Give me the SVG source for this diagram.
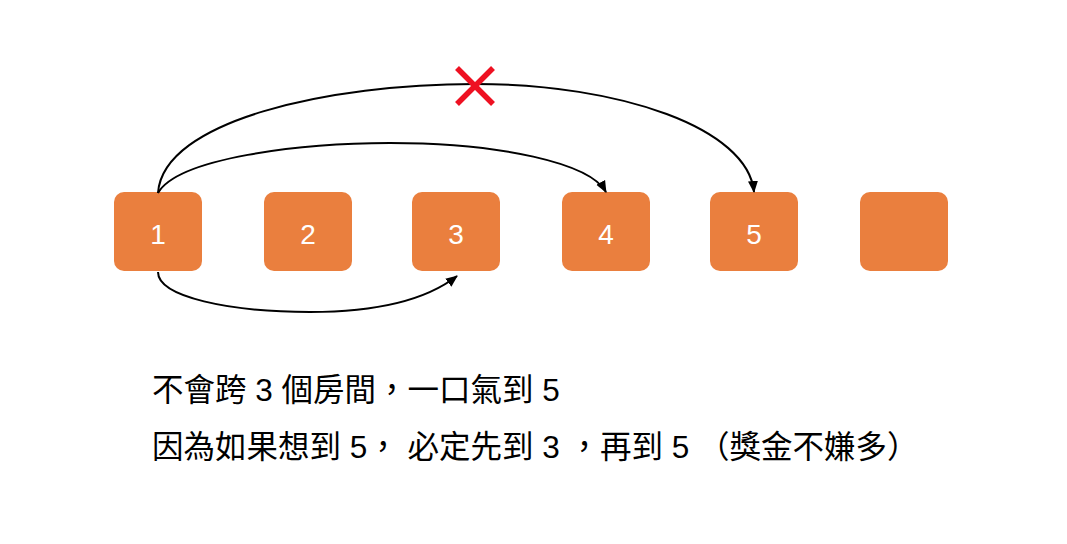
<svg xmlns="http://www.w3.org/2000/svg" width="1067" height="544" viewBox="0 0 1067 544">
  <style>
    .room { fill: #EA7F3E; }
    .num { fill: #ffffff; font-family: "Liberation Sans", Arial, sans-serif; font-size: 28px; text-anchor: middle; }
    .edge { fill: none; stroke: #000000; stroke-width: 2; }
    .note { fill: #000000; font-family: "Liberation Sans", "Noto Sans CJK TC", sans-serif; font-size: 31.5px; }
  </style>
  <defs>
    <marker id="arrow" markerUnits="userSpaceOnUse" markerWidth="12" markerHeight="12" viewBox="0 0 12 12" refX="11" refY="6" orient="auto">
      <path d="M0,1 L12,6 L0,11 Z" fill="#000000"/>
    </marker>
  </defs>
  <rect width="1067" height="544" fill="#ffffff"/>

  <g id="room-1"><rect class="room" x="114" y="192" width="88" height="79" rx="10"/><text class="num" x="158" y="244">1</text></g>
  <g id="room-2"><rect class="room" x="264" y="192" width="88" height="79" rx="10"/><text class="num" x="308" y="244">2</text></g>
  <g id="room-3"><rect class="room" x="412" y="192" width="88" height="79" rx="10"/><text class="num" x="456" y="244">3</text></g>
  <g id="room-4"><rect class="room" x="562" y="192" width="88" height="79" rx="10"/><text class="num" x="606" y="244">4</text></g>
  <g id="room-5"><rect class="room" x="710" y="192" width="88" height="79" rx="10"/><text class="num" x="754" y="244">5</text></g>
  <g id="room-6"><rect class="room" x="860" y="192" width="88" height="79" rx="10"/></g>

  <g id="connectors">
    <path class="edge" marker-end="url(#arrow)" d="M158,193 C163,120 330,84 475,84 C620,84 748,128 754,192"/>
    <path class="edge" marker-end="url(#arrow)" d="M158,193 C178,158 300,143 390,143 C500,143 590,163 606,192"/>
    <path class="edge" marker-end="url(#arrow)" d="M158,272 C158,297 230,312 310,312 C385,312 430,297 457,276"/>
  </g>

  <g id="blocked-mark" stroke="#EE1122" stroke-width="5.5" fill="none">
    <line x1="457" y1="68" x2="493" y2="104"/>
    <line x1="493" y1="68" x2="457" y2="104"/>
  </g>

  <g id="notes">
    <text class="note" x="152" y="401">不會跨 3 個房間，一口氣到 5</text>
    <text class="note" x="152" y="458">因為如果想到 5， 必定先到 3 ，再到 5 （獎金不嫌多）</text>
  </g>
</svg>
